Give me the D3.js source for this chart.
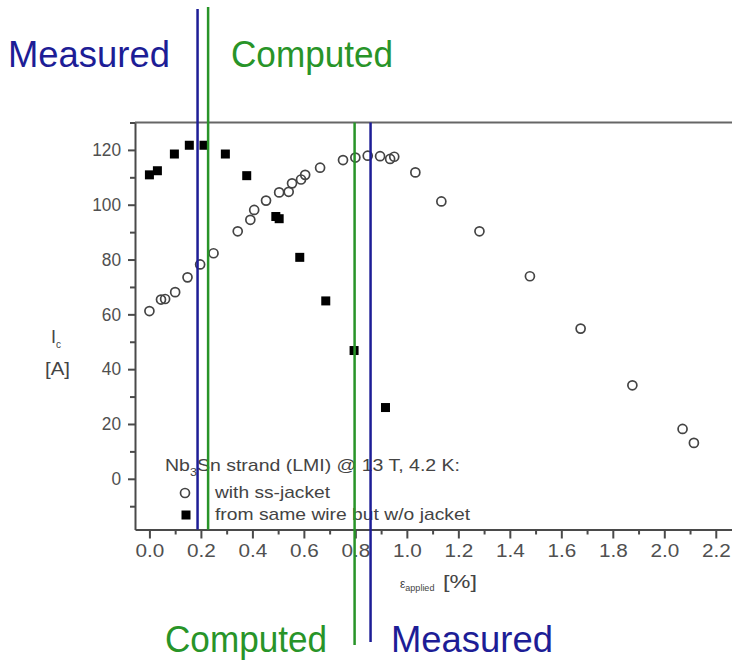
<!DOCTYPE html>
<html>
<head>
<meta charset="utf-8">
<script src="https://cdn.jsdelivr.net/npm/d3@7"></script>
<style>
  body { margin: 0; background: #fff; }
  svg { display: block; font-family: "Liberation Sans", Arial, sans-serif; }
</style>
</head>
<body>
<div id="chart"></div>
<script>
// Strand with stainless steel jacket (open circles)
const strainJacket = [0.0, 0.045, 0.061, 0.10, 0.148, 0.197, 0.249, 0.343, 0.392, 0.407, 0.453,
    0.504, 0.541, 0.554, 0.589, 0.605, 0.663, 0.752, 0.800, 0.848, 0.896, 0.935, 0.951,
    1.033, 1.134, 1.282, 1.478, 1.675, 1.876, 2.071, 2.115];
const icJacket = [61.2, 65.4, 65.6, 68.1, 73.5, 78.2, 82.3, 90.3, 94.5, 98.1, 101.5,
    104.5, 104.7, 107.8, 109.2, 110.9, 113.5, 116.3, 117.2, 117.9, 117.7, 116.7, 117.5,
    111.8, 101.2, 90.3, 73.9, 54.8, 34.1, 18.2, 13.1];

// Same wire without jacket (filled squares)
const strainBare = [0.0, 0.031, 0.097, 0.155, 0.212, 0.295, 0.378, 0.491, 0.504, 0.584, 0.685, 0.795, 0.917];
const icBare = [110.9, 112.4, 118.5, 121.7, 121.7, 118.5, 110.6, 95.7, 94.9, 80.8, 64.9, 46.8, 26.0];

// Irreversibility limits marked by vertical lines
const measuredStrain = [0.187, 0.859];
const computedStrain = [0.228, 0.797];

const xTicks = [0.0, 0.2, 0.4, 0.6, 0.8, 1.0, 1.2, 1.4, 1.6, 1.8, 2.0, 2.2];
const xMinorTicks = [0.1, 0.3, 0.5, 0.7, 0.9, 1.1, 1.3, 1.5, 1.7, 1.9, 2.1];
const yTicks = [0, 20, 40, 60, 80, 100, 120];
const yMinorTicks = [-10, 10, 30, 50, 70, 90, 110, 130];

let width = 732, height = 664;
let blue = '#1d1d96', green = '#289428', axisColor = '#4a4a4a';

let svg = d3.select('#chart').append('svg')
    .attr('width', width)
    .attr('height', height);

let x = d3.scaleLinear().domain([-0.056, 2.263]).range([135, 732]);
let y = d3.scaleLinear().domain([-18.5, 130]).range([529.5, 122.5]);

drawAxes();
drawPoints();
drawLegend();
drawMarkers();

/**
 * Frame, ticks and axis titles.
 */
function drawAxes() {
    // Major and minor x ticks
    svg.append('g')
        .attr('transform', 'translate(0,' + y.range()[0] + ')')
        .call(d3.axisBottom(x).tickValues(xTicks).tickSize(9).tickSizeOuter(0)
            .tickPadding(6).tickFormat(d3.format('.1f')));
    svg.append('g')
        .attr('transform', 'translate(0,' + y.range()[0] + ')')
        .call(d3.axisBottom(x).tickValues(xMinorTicks).tickSize(5).tickFormat(''))
        .select('.domain').remove();

    svg.append('g')
        .attr('transform', 'translate(' + x.range()[0] + ',0)')
        .call(d3.axisLeft(y).tickValues(yTicks).tickSize(7).tickSizeOuter(0).tickPadding(7));
    svg.append('g')
        .attr('transform', 'translate(' + x.range()[0] + ',0)')
        .call(d3.axisLeft(y).tickValues(yMinorTicks).tickSize(5).tickFormat(''))
        .select('.domain').remove();

    svg.selectAll('.tick line, .domain')
        .attr('stroke', axisColor)
        .attr('stroke-width', 2);
    // the source image is slightly stretched sideways, so widen the labels a bit
    svg.selectAll('.tick text')
        .attr('fill', '#505050')
        .attr('textLength', function() { return this.textContent.length * 9.6; })
        .attr('lengthAdjust', 'spacingAndGlyphs')
        .style('font-size', '18px');

    // Top border of the plot frame
    svg.append('line')
        .attr('x1', x.range()[0]).attr('x2', width)
        .attr('y1', y.range()[1]).attr('y2', y.range()[1])
        .attr('stroke', '#666')
        .attr('stroke-width', 2);

    // Axis titles
    let xt = svg.append('text')
        .attr('x', 400).attr('y', 588)
        .attr('fill', '#444');
    xt.append('tspan').text('ε').style('font-size', '12px');
    xt.append('tspan').text('applied').attr('dy', 3).style('font-size', '9px');
    svg.append('text')
        .attr('x', 443).attr('y', 588)
        .attr('fill', '#444')
        .attr('textLength', 34)
        .attr('lengthAdjust', 'spacingAndGlyphs')
        .style('font-size', '18px')
        .text('[%]');

    let yt = svg.append('text')
        .attr('x', 51).attr('y', 343)
        .attr('fill', '#444')
        .style('font-size', '18px');
    yt.append('tspan').text('I');
    yt.append('tspan').text('c').attr('dy', 5).style('font-size', '10px');
    svg.append('text')
        .attr('x', 45).attr('y', 375)
        .attr('fill', '#444')
        .attr('textLength', 25)
        .attr('lengthAdjust', 'spacingAndGlyphs')
        .style('font-size', '18px')
        .text('[A]');
}

/**
 * Open circles for the jacketed strand, filled squares for the bare wire.
 */
function drawPoints() {
    svg.append('g').selectAll('circle')
        .data(d3.zip(strainJacket, icJacket))
        .enter()
        .append('circle')
            .attr('cx', d => x(d[0]))
            .attr('cy', d => y(d[1]))
            .attr('r', 4.5)
            .attr('fill', 'none')
            .attr('stroke', '#444')
            .attr('stroke-width', 1.7);

    svg.append('g').selectAll('rect')
        .data(d3.zip(strainBare, icBare))
        .enter()
        .append('rect')
            .attr('x', d => x(d[0]) - 4.5)
            .attr('y', d => y(d[1]) - 4.5)
            .attr('width', 9)
            .attr('height', 9)
            .attr('fill', '#000');
}

/**
 * Legend block inside the plot, lower left.
 */
function drawLegend() {
    let title = svg.append('text')
        .attr('x', 165).attr('y', 471)
        .attr('fill', '#444')
        .attr('textLength', 295)
        .attr('lengthAdjust', 'spacingAndGlyphs')
        .style('font-size', '17px');
    title.append('tspan').text('Nb');
    title.append('tspan').text('3').attr('dy', 5).style('font-size', '11px');
    title.append('tspan').text('Sn strand (LMI) @ 13 T, 4.2 K:').attr('dy', -5);

    svg.append('circle')
        .attr('cx', 185).attr('cy', 493)
        .attr('r', 4.5)
        .attr('fill', 'none')
        .attr('stroke', '#444')
        .attr('stroke-width', 1.7);
    svg.append('text')
        .attr('x', 215).attr('y', 498)
        .attr('fill', '#444')
        .attr('textLength', 115)
        .attr('lengthAdjust', 'spacingAndGlyphs')
        .style('font-size', '17px')
        .text('with ss-jacket');

    svg.append('rect')
        .attr('x', 181.5).attr('y', 510.5)
        .attr('width', 9).attr('height', 9)
        .attr('fill', '#000');
    svg.append('text')
        .attr('x', 215).attr('y', 520)
        .attr('fill', '#444')
        .attr('textLength', 255)
        .attr('lengthAdjust', 'spacingAndGlyphs')
        .style('font-size', '17px')
        .text('from same wire but w/o jacket');
}

/**
 * Measured / computed strain limits with their captions.
 */
function drawMarkers() {
    // Upper pair runs from the caption down to the x axis
    svg.append('line')
        .attr('x1', x(measuredStrain[0])).attr('x2', x(measuredStrain[0]))
        .attr('y1', 9).attr('y2', y.range()[0])
        .attr('stroke', blue).attr('stroke-width', 2.5);
    svg.append('line')
        .attr('x1', x(computedStrain[0])).attr('x2', x(computedStrain[0]))
        .attr('y1', 7).attr('y2', y.range()[0])
        .attr('stroke', green).attr('stroke-width', 2.5);

    // Lower pair runs from the top frame down past the axis title
    svg.append('line')
        .attr('x1', x(computedStrain[1])).attr('x2', x(computedStrain[1]))
        .attr('y1', y.range()[1]).attr('y2', 645)
        .attr('stroke', green).attr('stroke-width', 2.5);
    svg.append('line')
        .attr('x1', x(measuredStrain[1])).attr('x2', x(measuredStrain[1]))
        .attr('y1', y.range()[1]).attr('y2', 642)
        .attr('stroke', blue).attr('stroke-width', 2.5);

    let captions = [
        {text: 'Measured', x: 8, y: 67, color: blue},
        {text: 'Computed', x: 231, y: 67, color: green},
        {text: 'Computed', x: 165, y: 652, color: green},
        {text: 'Measured', x: 391, y: 652, color: blue}
    ];
    svg.selectAll('text.caption')
        .data(captions)
        .enter()
        .append('text')
            .attr('class', 'caption')
            .attr('x', d => d.x)
            .attr('y', d => d.y)
            .attr('fill', d => d.color)
            .attr('textLength', 162)
            .attr('lengthAdjust', 'spacingAndGlyphs')
            .style('font-size', '36px')
            .text(d => d.text);
}
</script>
</body>
</html>
